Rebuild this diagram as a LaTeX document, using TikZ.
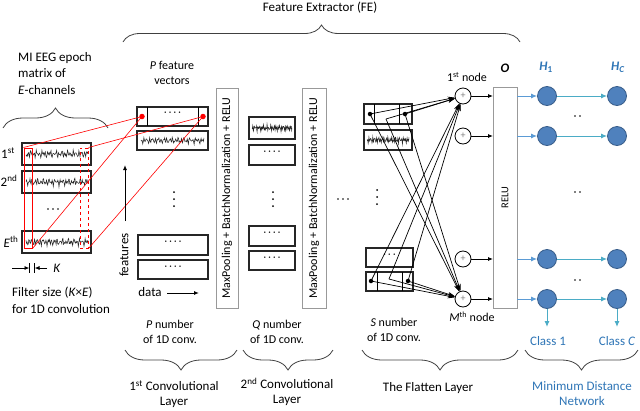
\documentclass[tikz,border=0pt]{standalone}
\usepackage{fontspec}
\setmainfont{Carlito}
\usetikzlibrary{arrows.meta,decorations.pathreplacing,calc}
\definecolor{mdblue}{HTML}{4F81BD}
\definecolor{mdedge}{HTML}{385D8A}
\definecolor{mdarrow}{HTML}{4BACC6}
\definecolor{mdarrowin}{HTML}{5B9BD5}
\definecolor{mdtext}{HTML}{2E75B6}
\newcommand{\eegwave}[4]{%
  \draw[wave] plot[domain=0:1,samples=110,variable=\t]
   ({#1+\t*(#2-#1)},{#3+#4*(0.45*sin(\t*7919+#3*7)+0.35*sin(\t*12007+#3*3)+0.25*sin(\t*3571)+0.2*sin(\t*15013))});}
\newcommand{\dotrow}[4]{% x y n spacing (horizontal)
  \foreach \k in {1,...,#3}{\fill ({#1+(\k-1)*#4},#2) circle (0.9pt);}}
\newcommand{\dotcol}[4]{% x y n spacing (vertical)
  \foreach \k in {1,...,#3}{\fill (#1,{#2+(\k-1)*#4}) circle (1pt);}}
\begin{document}
\begin{tikzpicture}[x=1pt,y=-1pt,
  lbl/.style={font=\fontsize{13}{16.5}\selectfont, inner sep=0pt},
  sml/.style={font=\fontsize{12}{15.5}\selectfont, inner sep=0pt},
  fbox/.style={draw=black!85, line width=1.1pt, inner sep=0pt, outer sep=0pt},
  pool/.style={draw=black!40, line width=0.8pt, fill=white, inner sep=0pt, outer sep=0pt},
  wave/.style={line width=0.55pt, black!85},
  redl/.style={red, line width=0.6pt},
  reddot/.style={circle, fill=red, inner sep=0pt, minimum size=5.5pt},
  blkdot/.style={circle, fill=black, inner sep=0pt, minimum size=4.5pt},
  plus/.style={circle, draw=black, fill=white, line width=0.8pt, inner sep=0pt, minimum size=16pt, font=\fontsize{10}{10}\selectfont\color{black!50}},
  hnode/.style={circle, draw=mdedge, fill=mdblue, line width=0.8pt, inner sep=0pt, minimum size=19pt},
  flarr/.style={-{Stealth[length=7pt,width=4.5pt]}, line width=0.7pt},
  blkarr/.style={-{Latex[length=5pt,width=4pt]}, line width=0.8pt},
  binarr/.style={-{Latex[length=6pt,width=5pt]}, mdarrowin, line width=1pt},
  bmid/.style={-{Latex[length=6pt,width=5pt]}, mdarrow, line width=1pt},
  brc/.style={decorate, decoration={brace, amplitude=#1}, draw=black!75, line width=0.8pt},
  brc/.default=18pt,
  fourdots/.style={font=\fontsize{10}{10}\selectfont},
]
\useasboundingbox (0,0) rectangle (640,410);

% ---- top
\node[lbl] (fe) at (320,8) {Feature Extractor (FE)};
\draw[brc=17pt] (123,42) -- (520,42);

% ---- EEG input
\node[lbl, anchor=west, align=left] (mi) at (18,73.5) {MI EEG epoch\\matrix of\\\textit{E}-channels};
\draw[brc=20pt] (3,128) -- (108,128);
\node[fbox, minimum width=69pt, minimum height=22pt] (e1) at (56.5,154) {};
\node[fbox, minimum width=69pt, minimum height=22pt] (e2) at (56.5,182) {};
\node[fbox, minimum width=69pt, minimum height=22pt] (eE) at (56.5,242) {};
\eegwave{26}{88}{154}{4}
\eegwave{26}{88}{182}{4}
\eegwave{26}{88}{242}{4}
\node[lbl] (l1) at (8,153) {1\textsuperscript{st}};
\node[lbl] (l2) at (9,181) {2\textsuperscript{nd}};
\node[lbl] (lE) at (11,242) {\textit{E}\textsuperscript{th}};
\dotrow{48}{209}{3}{5}
\node[draw=red, line width=1pt, minimum width=8pt, minimum height=100pt, inner sep=0pt] (sr) at (28,198) {};
\node[draw=red, dashed, line width=1pt, minimum width=8pt, minimum height=100pt, inner sep=0pt] (dr) at (84,198) {};
% K marker
\coordinate (ka) at (12,268); \coordinate (kb) at (29.5,268);
\coordinate (kc) at (47,268); \coordinate (kd) at (34.5,268);
\draw[blkarr] (ka) -- (kb);
\draw[line width=0.9pt] ($(kb)+(0,-5)$) -- ($(kb)+(0,5)$);
\draw[blkarr] (kc) -- (kd);
\draw[line width=0.9pt] ($(kd)+(0,-5)$) -- ($(kd)+(0,5)$);
\node[lbl] (kl) at (57,268) {\textit{K}};
\node[lbl, anchor=west, align=left] (fs) at (12,300.5) {Filter size (\textit{K}×\textit{E})\\for 1D convolution};

% ---- first conv layer
\node[sml, align=center] (pf) at (172,73) {\textit{P} feature\\vectors};
\node[fbox, minimum width=71pt, minimum height=19pt] (L1a) at (172.5,116.5) {};
\draw[line width=0.8pt] ($(L1a.north west)+(10,0)$) -- ($(L1a.south west)+(10,0)$);
\draw[line width=0.8pt] ($(L1a.north east)+(-10,0)$) -- ($(L1a.south east)+(-10,0)$);
\node[fourdots] at (172.5,114) {· · · ·};
\node[reddot] (d1) at (142,116.5) {};
\node[reddot] (d2) at (203,116.5) {};
\node[fbox, minimum width=71pt, minimum height=19pt] (L1b) at (172.5,140.5) {};
\eegwave{141}{204}{140.5}{3.5}
\dotcol{174}{192}{3}{7}
\node[fbox, minimum width=70pt, minimum height=20pt] (L1c) at (173,245) {};
\node[fourdots] at (173,243) {· · · ·};
\node[fbox, minimum width=70pt, minimum height=19pt] (L1d) at (173,269.5) {};
\node[fourdots] at (173,267.5) {· · · ·};
% red projection lines
\draw[redl] (sr.north west) -- (d1.center);
\draw[redl] (sr.south east) -- (d1.center);
\draw[redl] (dr.north east) -- (d2.center);
\draw[redl] (dr.south east) -- (d2.center);
% axes
\coordinate (fa0) at (125,221); \coordinate (fa1) at (125,165);
\draw[blkarr, line width=1pt] (fa0) -- (fa1);
\node[lbl, rotate=90] (feat) at (124,255) {features};
\node[lbl] (data) at (150,292) {data};
\coordinate (da0) at (167,293); \coordinate (da1) at (199,293);
\draw[blkarr, line width=1pt] (da0) -- (da1);
\node[pool, minimum width=22pt, minimum height=220pt] (pool1) at (227,198) {};
\node[sml, rotate=90] at (pool1.center) {MaxPooling + BatchNormalization + RELU};

% ---- second conv layer
\node[fbox, minimum width=46pt, minimum height=22pt] (L2a) at (272,128) {};
\eegwave{252}{292}{128}{3.5}
\node[fbox, minimum width=46pt, minimum height=20pt] (L2b) at (272,155) {};
\node[fourdots] at (272,153) {· · · ·};
\dotcol{273}{192}{3}{7}
\node[fbox, minimum width=46pt, minimum height=20pt] (L2c) at (272,236) {};
\node[fourdots] at (272,234) {· · · ·};
\node[fbox, minimum width=46pt, minimum height=19pt] (L2d) at (272,260.5) {};
\node[fourdots] at (272,258.5) {· · · ·};
\node[pool, minimum width=24pt, minimum height=220pt] (pool2) at (314,198) {};
\node[sml, rotate=90] at (pool2.center) {MaxPooling + BatchNormalization + RELU};
\dotrow{338}{199}{3}{5}

% ---- flatten layer
\node[fbox, minimum width=48pt, minimum height=20pt] (F1) at (388,114) {};
\draw[line width=0.8pt] ($(F1.north west)+(10,0)$) -- ($(F1.south west)+(10,0)$);
\draw[line width=0.8pt] ($(F1.north east)+(-13,0)$) -- ($(F1.south east)+(-13,0)$);
\node[fbox, minimum width=48pt, minimum height=20pt] (F2) at (388,140) {};
\eegwave{367}{409}{140}{3.5}
\dotcol{377}{190}{3}{7}
\node[fbox, minimum width=47pt, minimum height=19pt] (F3) at (389.5,257.5) {};
\node[fourdots] at (389.5,255.5) {· · ·};
\node[fbox, minimum width=47pt, minimum height=19pt] (F4) at (389.5,281.5) {};
\draw[line width=0.8pt] ($(F4.north west)+(11,0)$) -- ($(F4.south west)+(11,0)$);
\draw[line width=0.8pt] ($(F4.north east)+(-11,0)$) -- ($(F4.south east)+(-11,0)$);
\node[blkdot] (t1) at (370,114) {};
\coordinate (t2) at (386,119);
\node[blkdot] (t3) at (405,114) {};
\node[blkdot] (b1) at (371,281) {};
\coordinate (b2) at (389,279);
\node[blkdot] (b3) at (408,281) {};

\node[plus] (p1) at (463,96) {+};
\node[plus] (p2) at (463,136) {+};
\node[plus] (p3) at (463,259) {+};
\node[plus] (p4) at (463,299) {+};
\foreach \s in {t1,t2,t3,b1,b2,b3}{
  \draw[flarr] (\s.center) -- (p1);
  \draw[flarr] (\s.center) -- (p4);
}
\node[sml] (n1) at (467,77) {1\textsuperscript{st} node};
\node[sml] (nM) at (472,317) {\textit{M}\textsuperscript{th} node};
\node[pool, minimum width=24pt, minimum height=221pt] (relu) at (505,197.5) {};
\node[font=\fontsize{10.5}{12}\selectfont, rotate=90] at (relu.center) {RELU};
\node[lbl] (O) at (505,68) {\textbf{\textit{O}}};
\foreach \p in {p1,p2,p3,p4}{
  \draw[blkarr] (\p.east) -- (\p.east -| relu.west);
}

% ---- minimum distance network
\foreach \i/\y in {1/96,2/136,3/259,4/299}{
  \node[hnode] (ha\i) at (547,\y) {};
  \node[hnode] (hc\i) at (617,\y) {};
  \draw[binarr] (ha\i.west -| relu.east) -- (ha\i.west);
  \draw[bmid] (ha\i) -- (hc\i);
}
\node[lbl, text=mdtext] (H1) at (546,67) {\textbf{\textit{H}\textsubscript{1}}};
\node[lbl, text=mdtext] (HC) at (618,67) {\textbf{\textit{H}\textsubscript{\textit{C}}}};
\dotrow{575}{116}{2}{5}
\dotrow{575}{192}{2}{5}
\dotrow{575}{280}{2}{5}
\coordinate (ca) at (547,327); \coordinate (cc) at (617,327);
\draw[bmid] (ha4) -- (ca);
\draw[bmid] (hc4) -- (cc);
\node[lbl, text=mdtext] (cl1) at (548,341) {Class 1};
\node[lbl, text=mdtext] (clC) at (617,341) {Class \textit{C}};
\draw[brc=20pt] (638,350) -- (525,350);
\node[lbl, text=mdtext, align=center, font=\fontsize{13}{15}\selectfont] (mdn) at (582,393.5) {Minimum Distance\\Network};

% ---- bottom labels
\node[sml, align=center] (pn) at (170,332) {\textit{P} number\\of 1D conv.};
\draw[brc=20pt] (237,350) -- (125,350);
\node[lbl, align=center, font=\fontsize{13}{15}\selectfont] (c1) at (174,394) {1\textsuperscript{st} Convolutional\\Layer};
\node[sml, align=center] (qn) at (277,332) {\textit{Q} number\\of 1D conv.};
\draw[brc=20pt] (333,350) -- (243,350);
\node[lbl, align=center, font=\fontsize{13}{15}\selectfont] (c2) at (287,392) {2\textsuperscript{nd} Convolutional\\Layer};
\node[sml, align=center] (sn) at (394,330) {\textit{S} number\\of 1D conv.};
\draw[brc=20pt] (518,350) -- (362,350);
\node[lbl] (fl) at (428,388) {The Flatten Layer};
\end{tikzpicture}
\end{document}
